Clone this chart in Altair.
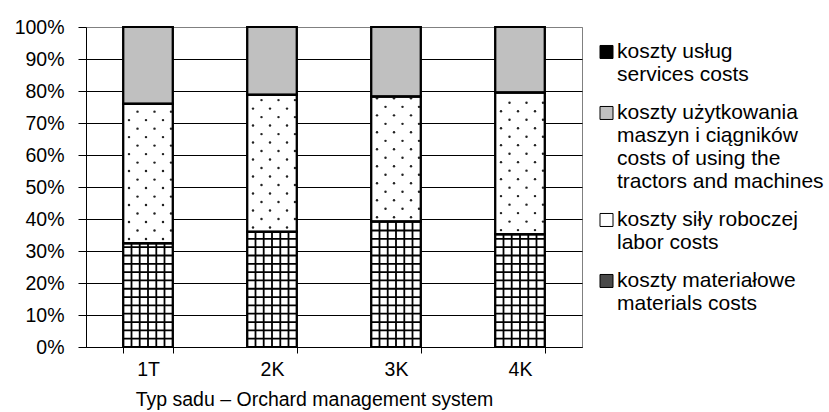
import altair as alt
import pandas as pd

# Cost structure by orchard type (% of total costs)
categories = ["1T", "2K", "3K", "4K"]
materials = [32.4, 36.0, 39.2, 35.2]
labor = [43.6, 42.8, 39.1, 44.3]
machines = [24.0, 21.2, 21.7, 20.5]
services = [0.0, 0.0, 0.0, 0.0]

# Legend texts, "|" separates the lines of each entry
series_names = [
    "koszty materiałowe|materials costs",
    "koszty siły roboczej|labor costs",
    "koszty użytkowania|maszyn i ciągników|costs of using the|tractors and machines",
    "koszty usług|services costs",
]
bar_fills = ["white", "white", "#c0c0c0", "black"]
legend_fills = ["#4a4a4a", "white", "#c0c0c0", "black"]

rows = []
for i, c in enumerate(categories):
    for k, (name, vals) in enumerate(zip(series_names, [materials, labor, machines, services])):
        rows.append({"cat": c, "series": name, "share": vals[i], "rank": k})
df = pd.DataFrame(rows)

FONT = "Liberation Sans"
FS = 19.5

base = alt.Chart(df).transform_stack(
    stack="share",
    groupby=["cat"],
    sort=[alt.SortField("rank")],
    as_=["y0", "y1"],
    offset="normalize",
)

x_enc = alt.X(
    "cat:N",
    sort=categories,
    scale=alt.Scale(paddingInner=0.6, paddingOuter=0.3),
    axis=alt.Axis(
        title="Typ sadu – Orchard management system",
        titleFont=FONT, titleFontSize=FS, titleFontWeight="normal", titleColor="black",
        titlePadding=12, titleX=228, titleAlign="center",
        labelFont=FONT, labelFontSize=FS, labelColor="black", labelAngle=0, labelPadding=7,
        tickBand="extent", tickSize=6, tickColor="black", domainColor="black", grid=False,
    ),
)
y_scale = alt.Scale(domain=[0, 1], nice=False, zero=True)
y_axis = alt.Axis(
    title=None,
    values=[i / 10 for i in range(11)],
    format=".0%",
    labelFont=FONT, labelFontSize=FS, labelColor="black", labelPadding=14,
    tickSize=8, tickColor="black", domainColor="black",
    grid=True,
    gridColor={"condition": {"test": "datum.value >= 1", "value": "#808080"}, "value": "black"},
    gridWidth=1,
)

# Square legend symbol sitting on the first text line's baseline
SYMBOL = "M-1,-1.85H1V0.15H-1Z"

# Hidden squares under the bars carry the legend symbols
legend_layer = base.transform_filter("datum.rank < 3").transform_calculate(
    mid="(datum.y0 + datum.y1) / 2"
).mark_square(size=30, filled=True, stroke="black", strokeWidth=1, opacity=1).encode(
    x=x_enc,
    y=alt.Y("mid:Q", scale=y_scale, axis=y_axis),
    color=alt.Color(
        "series:N",
        scale=alt.Scale(domain=series_names[::-1], range=legend_fills[::-1]),
        legend=alt.Legend(
            title=None, orient="none", legendX=510, legendY=20,
            symbolType=SYMBOL, symbolSize=169,
            symbolStrokeColor="black", symbolStrokeWidth=1,
            labelFont=FONT, labelFontSize=21, labelColor="black", labelLimit=400,
            labelExpr="split(datum.label, '|')",
            labelBaseline="alphabetic", rowPadding=16, labelOffset=0,
        ),
    ),
)

bars = base.mark_bar(stroke="black", strokeWidth=2).encode(
    x=x_enc,
    y=alt.Y("y0:Q", scale=y_scale, axis=y_axis),
    y2="y1:Q",
    fill=alt.Fill("series:N", scale=alt.Scale(domain=series_names, range=bar_fills), legend=None),
)

mat = base.transform_filter("datum.rank == 0")
lab = base.transform_filter("datum.rank == 1")

# Cross-hatch texture of the materials segments
hatch_h = mat.transform_calculate(
    ys="sequence(datum.y0 + 0.026, datum.y1 - 0.004, 0.026)"
).transform_flatten(["ys"]).mark_bar(fillOpacity=0, stroke="black", strokeWidth=1.8).encode(
    x=x_enc, y=alt.Y("ys:Q", scale=y_scale, axis=y_axis), y2="ys:Q"
)
hatch_v = [
    mat.mark_rule(xOffset=off, color="black", strokeWidth=1.8).encode(
        x=x_enc, y=alt.Y("y0:Q", scale=y_scale, axis=y_axis), y2="y1:Q"
    )
    for off in [-16.5, -8.3, 0, 8.3, 16.5]
]

# Dotted texture of the labor segments (staggered rows)
dots = []
for start, offs in [(0.0133, [-19, -2, 15]), (0.0398, [-10.5, 6.5, 23])]:
    rows_layer = lab.transform_calculate(
        ys=f"sequence(datum.y0 + {start}, datum.y1 - 0.005, 0.0531)"
    ).transform_flatten(["ys"])
    for off in offs:
        dots.append(
            rows_layer.mark_circle(size=6, color="#222222", opacity=1, xOffset=off).encode(
                x=x_enc, y=alt.Y("ys:Q", scale=y_scale, axis=y_axis)
            )
        )

outline = base.mark_bar(fillOpacity=0, stroke="black", strokeWidth=2).encode(
    x=x_enc, y=alt.Y("y0:Q", scale=y_scale, axis=y_axis), y2="y1:Q"
)

chart = alt.layer(legend_layer, bars, hatch_h, *hatch_v, *dots, outline).properties(
    width=496,
    height=320,
    autosize=alt.AutoSizeParams(type="none"),
    padding={"left": 86, "top": 27, "right": 247, "bottom": 65},
    background="white",
).configure_view(stroke="#808080", strokeWidth=1)

chart.save("out.html", embed_options={"renderer": "svg", "actions": False})
